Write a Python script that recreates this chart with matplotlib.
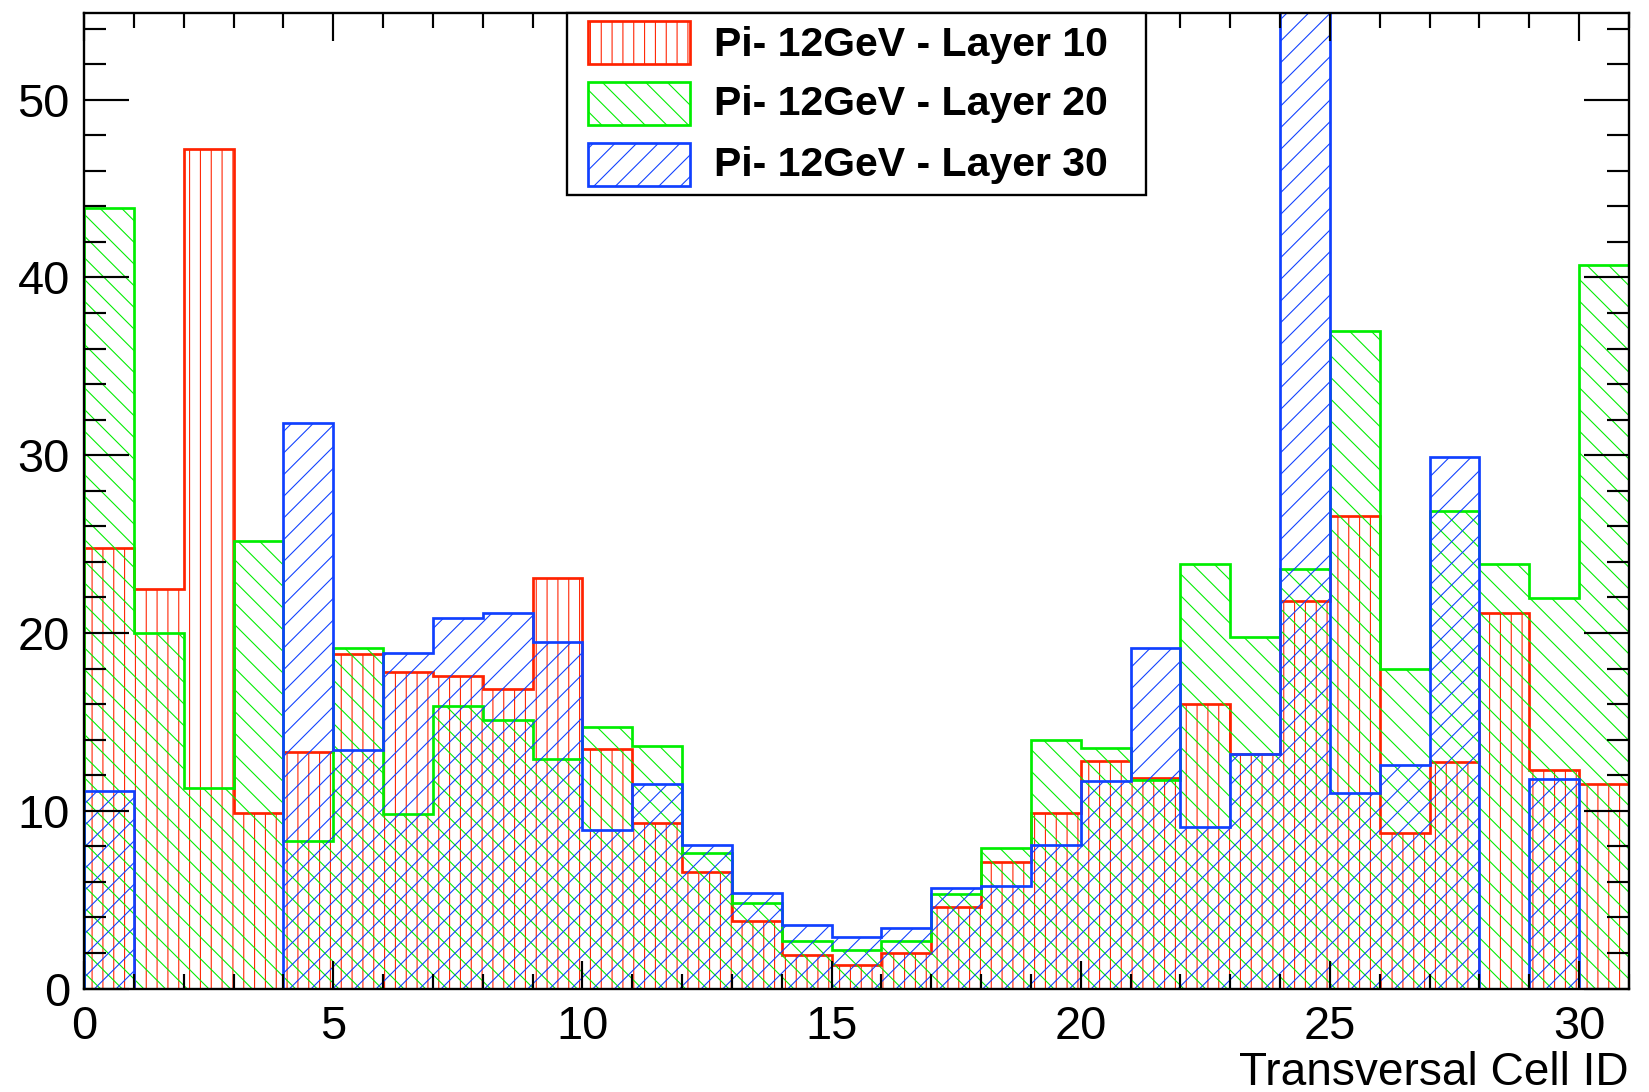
import matplotlib
matplotlib.use('Agg')
import matplotlib.pyplot as plt
import numpy as np
from matplotlib.patches import Rectangle
from matplotlib.ticker import MultipleLocator

# ---------------- data ----------------
bin_edges = list(range(32))  # Transversal Cell ID 0..31
layer10 = [24.8, 22.5, 47.2, 9.9, 13.3, 18.8, 17.8, 17.6, 16.85, 23.1,
           13.45, 9.3, 6.55, 3.8, 1.87, 1.34, 2.0, 4.57, 7.1, 9.9,
           12.8, 11.85, 16.0, 13.2, 21.8, 26.6, 8.75, 12.75, 21.1, 12.3, 11.5]
layer20 = [43.9, 20.0, 11.3, 25.2, 8.3, 19.15, 9.8, 15.9, 15.1, 12.9,
           14.7, 13.65, 7.65, 4.8, 2.7, 2.15, 2.7, 5.33, 7.9, 14.0,
           13.55, 11.75, 23.9, 19.8, 23.6, 37.0, 18.0, 26.85, 23.9, 21.95, 40.7]
layer30 = [11.1, 0, 0, 0, 31.8, 13.4, 18.9, 20.85, 21.1, 19.5,
           8.9, 11.5, 8.05, 5.4, 3.55, 2.9, 3.4, 5.65, 5.75, 8.1,
           11.65, 19.15, 9.1, 13.2, 58.0, 11.0, 12.6, 29.9, 0, 11.8, 0]
labels = ["Pi- 12GeV - Layer 10", "Pi- 12GeV - Layer 20", "Pi- 12GeV - Layer 30"]
x_label = "Transversal Cell ID"

colors = ['#ff2200', '#00ee00', '#1040ff']
hatches = ['||', '\\\\', '//']

plt.rcParams['font.family'] = ['Liberation Sans', 'DejaVu Sans']
plt.rcParams['hatch.linewidth'] = 0.6

W, H, DPI = 1649, 1092, 130
fig = plt.figure(figsize=(W / DPI, H / DPI), dpi=DPI)
ax = fig.add_axes([84 / W, 1 - 988.6 / H, (1629 - 84) / W, (988.6 - 12.6) / H])

edges = np.array(bin_edges)
for vals, col, h in zip([layer10, layer20, layer30], colors, hatches):
    ax.stairs(np.array(vals), edges, baseline=0, fill=False,
              edgecolor=col, hatch=h, linewidth=1.5)

ax.set_xlim(0, 31)
ax.set_ylim(0, 54.9)
ax.xaxis.set_major_locator(MultipleLocator(5))
ax.xaxis.set_minor_locator(MultipleLocator(1))
ax.yaxis.set_major_locator(MultipleLocator(10))
ax.yaxis.set_minor_locator(MultipleLocator(2))
ax.tick_params(which='both', direction='in', top=True, right=True,
               width=1.2, labelsize=26, colors='black')
ax.tick_params(axis='x', which='major', length=15.7, pad=9)
ax.tick_params(axis='x', which='minor', length=8.4)
ax.tick_params(axis='y', which='major', length=25, pad=7.8)
ax.tick_params(axis='y', which='minor', length=12.3)
for s in ax.spines.values():
    s.set_linewidth(1.3)
    s.set_zorder(5)

ax.text(1.0, -0.0988, x_label, transform=ax.transAxes, ha='right',
        va='baseline', fontsize=25.5)

# ---------------- legend (manual, ROOT style) ----------------
def fx(px):
    return px / W

def fy(py):
    return 1 - py / H

frame = Rectangle((fx(567), fy(195)), (1146 - 567) / W, (195 - 13) / H,
                  transform=fig.transFigure, facecolor='white',
                  edgecolor='black', linewidth=1.3, zorder=10)
fig.add_artist(frame)
rows = [(21, 64, 56), (82, 125, 115), (143, 186, 176.5)]
for (y0, y1, yb), col, h, lab in zip(rows, colors, hatches, labels):
    r = Rectangle((fx(588), fy(y1)), (690 - 588) / W, (y1 - y0) / H,
                  transform=fig.transFigure, fill=False, edgecolor=col,
                  hatch=h, linewidth=1.5, zorder=11)
    fig.add_artist(r)
    fig.text(fx(714), fy(yb), lab, ha='left', va='baseline',
             fontsize=22.7, fontweight='bold', zorder=12)

fig.savefig('out.png', dpi=DPI)
